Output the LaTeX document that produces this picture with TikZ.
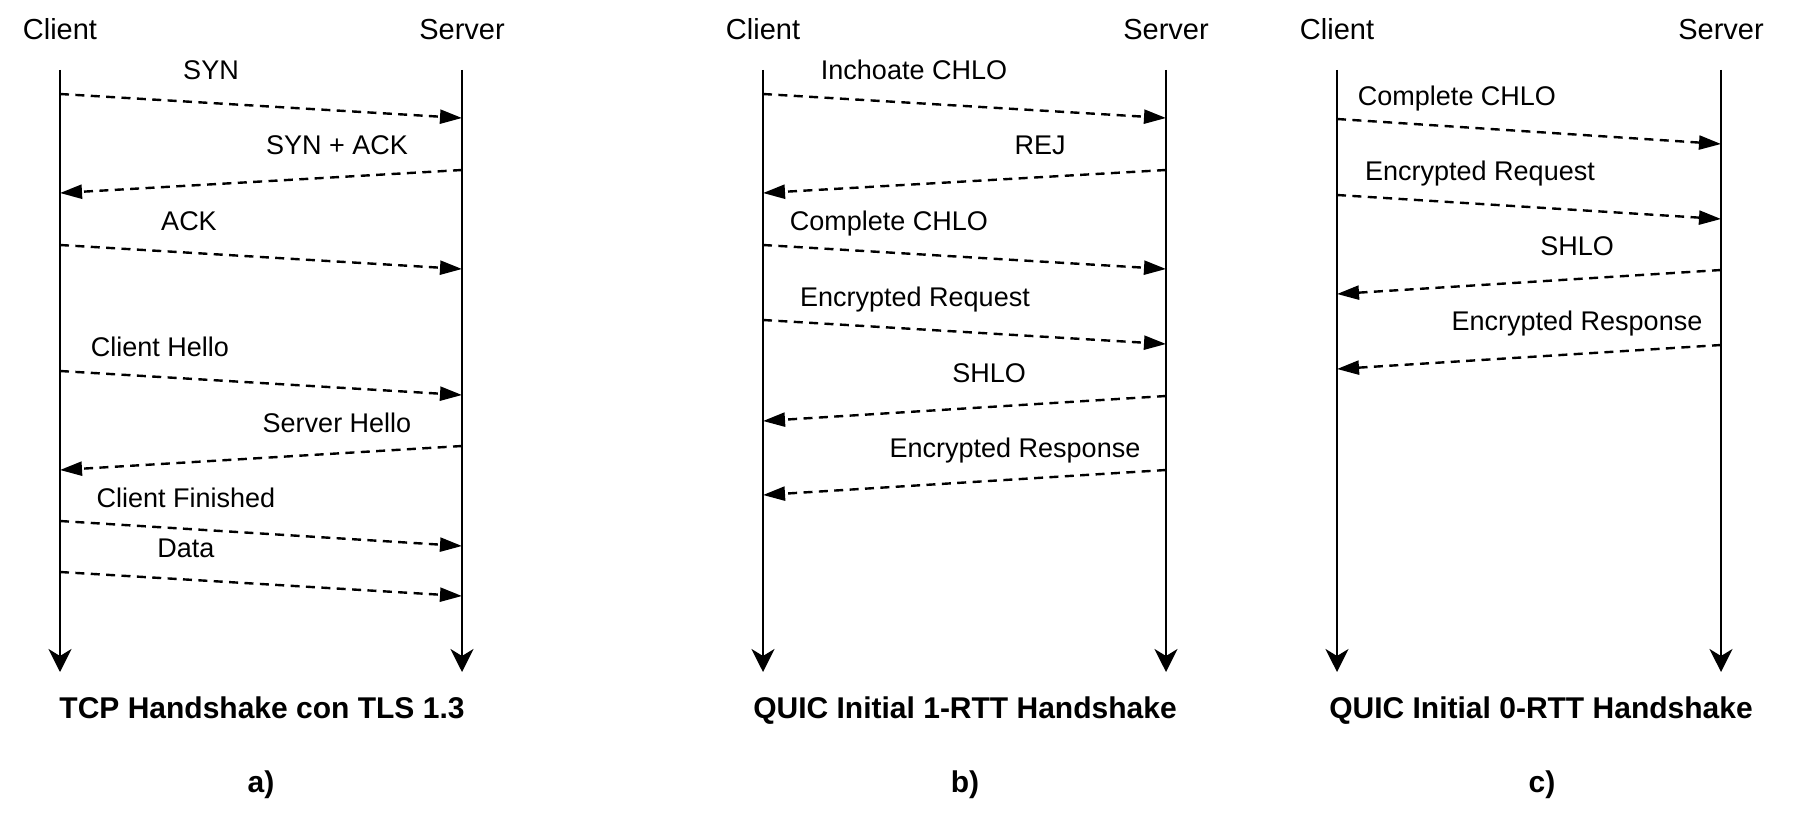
\documentclass[tikz,border=0pt]{standalone}
\usepackage{fontspec}
\setmainfont{Liberation Sans}
\usetikzlibrary{arrows.meta}
\tikzset{
  lifeline/.style={line width=1.2pt, -{Stealth[length=11.5pt, width=11.5pt, inset=3.5pt]}},
  message/.style={line width=1.2pt, dash pattern=on 4.5pt off 3.2pt, -{Triangle[length=11pt, width=7pt]}},
  party/.style={anchor=base, inner sep=0pt, font=\fontsize{14.5}{17}\selectfont},
  msglabel/.style={anchor=base, inner sep=0pt, font=\fontsize{13.5}{16}\selectfont},
  caption/.style={anchor=base, inner sep=0pt, font=\fontsize{15}{18}\selectfont\bfseries},
}

\begin{document}
\begin{tikzpicture}[x=0.5pt, y=-0.5pt]
\useasboundingbox (0,0) rectangle (1798,813);

% lifelines
\foreach \p/\xc/\xs in {a/60/462, b/763/1166, c/1337/1721} {
  \node[party] (\p-client) at (\xc,40) {Client};
  \node[party] (\p-server) at (\xs,40) {Server};
  \coordinate (\p-ctop) at (\xc,70);
  \coordinate (\p-cend) at (\xc,672);
  \coordinate (\p-stop) at (\xs,70);
  \coordinate (\p-send) at (\xs,672);
  \draw[lifeline] (\p-ctop) -- (\p-cend);
  \draw[lifeline] (\p-stop) -- (\p-send);
}

% messages
\foreach \nm/\xa/\ya/\xb/\yb/\lx/\ly/\txt in {
  a1/60/94/462/118/211/80/SYN,
  a2/462/170/60/193/337/155/SYN + ACK,
  a3/60/245/462/269/189/230/ACK,
  a4/60/371/462/395/160/356/Client Hello,
  a5/462/446/60/470/337/432/Server Hello,
  a6/60/521/462/546/186/507/Client Finished,
  a7/60/572/462/596/186/557/Data,
  b1/763/94/1166/118/914/80/Inchoate CHLO,
  b2/1166/170/763/193/1040/155/REJ,
  b3/763/245/1166/269/889/230/Complete CHLO,
  b4/763/320/1166/344/915/306/Encrypted Request,
  b5/1166/396/763/421/989/382/SHLO,
  b6/1166/470/763/495/1015/457/Encrypted Response,
  c1/1337/119/1721/144/1457/105/Complete CHLO,
  c2/1337/195/1721/219/1480/180/Encrypted Request,
  c3/1721/270/1337/294/1577/255/SHLO,
  c4/1721/345/1337/369/1577/330/Encrypted Response} {
  \coordinate (\nm-from) at (\xa,\ya);
  \coordinate (\nm-to) at (\xb,\yb);
  \draw[message] (\nm-from) -- (\nm-to);
  \node[msglabel] (\nm-label) at (\lx,\ly) {\txt};
}

% captions
\node[caption] (a-title) at (262,718) {TCP Handshake con TLS 1.3};
\node[caption] (b-title) at (965,718) {QUIC Initial 1-RTT Handshake};
\node[caption] (c-title) at (1541,718) {QUIC Initial 0-RTT Handshake};
\node[caption] (a-tag) at (261,792) {a)};
\node[caption] (b-tag) at (965,792) {b)};
\node[caption] (c-tag) at (1542,792) {c)};
\end{tikzpicture}
\end{document}
